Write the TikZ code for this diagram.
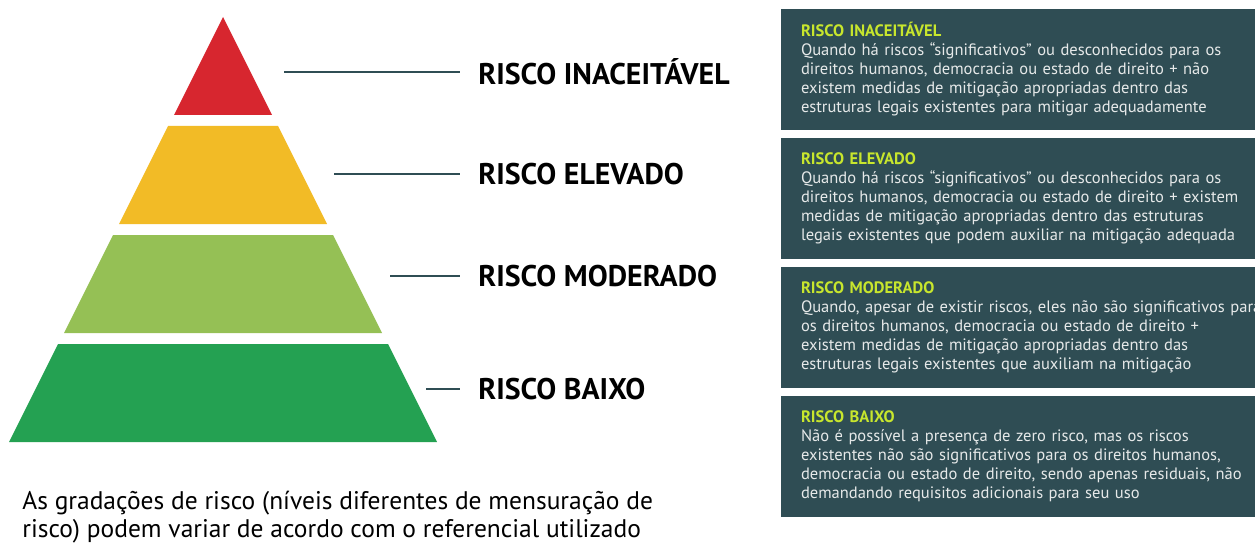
\documentclass[tikz,border=0pt]{standalone}
\usepackage{fontspec}
\setmainfont{PT Sans}
\usetikzlibrary{positioning,calc}
\definecolor{riskred}{HTML}{D7262F}
\definecolor{riskyellow}{HTML}{F2BB26}
\definecolor{risklight}{HTML}{95C055}
\definecolor{riskgreen}{HTML}{24A152}
\definecolor{boxteal}{HTML}{2F4D54}
\definecolor{titlelime}{HTML}{C8E62D}
\definecolor{boxtext}{HTML}{E6E9E9}
\tikzset{
        level/.style = {anchor=west, inner xsep=0.36cm, inner ysep=0pt,
            font=\fontsize{17}{18}\selectfont\bfseries},
        infobox/.style = {fill=boxteal, text=boxtext, align=left,
            text width=9.6cm, inner xsep=0.4cm, outer sep=0pt,
            minimum height=2.42cm,
            font=\fontsize{9.4}{10.8}\selectfont},
        leader/.style = {draw=boxteal, line width=1.3pt},
    }
\newcommand{\boxhead}[1]{\textcolor{titlelime}{\bfseries #1}}

\begin{document}
\begin{tikzpicture}[x=0.02cm, y=-0.02cm, node distance=0.16cm]
		\useasboundingbox (0,0) rectangle (1255,544);
		\fill[riskred]    (223,17) -- (272,115) -- (174,115) -- cycle;
		\fill[riskyellow] (168,126) -- (278,126) -- (327,224) -- (119,224) -- cycle;
		\fill[risklight]  (113,235) -- (333,235) -- (382,333) -- (64,333) -- cycle;
		\fill[riskgreen]  (58,344) -- (388,344) -- (437,442) -- (9,442) -- cycle;
		\coordinate (tipInac) at (284,72);
		\coordinate (tipElev) at (334,174);
		\coordinate (tipMod)  at (390,276);
		\coordinate (tipBaixo) at (426,389);
		\node[level] (lblInac)  at (460,72)  {RISCO INACEITÁVEL};
		\node[level] (lblElev)  at (460,174) {RISCO ELEVADO};
		\node[level] (lblMod)   at (460,276) {RISCO MODERADO};
		\node[level] (lblBaixo) at (460,389) {RISCO BAIXO};
		\path[leader]
		(tipInac) edge (lblInac)
		(tipElev) edge (lblElev)
		(tipMod) edge (lblMod)
		(tipBaixo) edge (lblBaixo);
		\node[infobox, anchor=north west] (boxInac) at (781,9)
		{\boxhead{RISCO INACEITÁVEL}\\
		Quando há riscos “significativos” ou desconhecidos para os\\
		direitos humanos, democracia ou estado de direito + não\\
		existem medidas de mitigação apropriadas dentro das\\
		estruturas legais existentes para mitigar adequadamente};
		\node[infobox] (boxElev) [below=of boxInac]
		{\boxhead{RISCO ELEVADO}\\
		Quando há riscos “significativos” ou desconhecidos para os\\
		direitos humanos, democracia ou estado de direito + existem\\
		medidas de mitigação apropriadas dentro das estruturas\\
		legais existentes que podem auxiliar na mitigação adequada};
		\node[infobox] (boxMod) [below=of boxElev]
		{\boxhead{RISCO MODERADO}\\
		Quando, apesar de existir riscos, eles não são significativos para\\
		os direitos humanos, democracia ou estado de direito +\\
		existem medidas de mitigação apropriadas dentro das\\
		estruturas legais existentes que auxiliam na mitigação};
		\node[infobox] (boxBaixo) [below=of boxMod]
		{\boxhead{RISCO BAIXO}\\
		Não é possível a presença de zero risco, mas os riscos\\
		existentes não são significativos para os direitos humanos,\\
		democracia ou estado de direito, sendo apenas residuais, não\\
		demandando requisitos adicionais para seu uso};
		\node[anchor=west, inner sep=0pt, align=left,
		font=\fontsize{14.5}{15.9}\selectfont] (caption) at (22,517)
		{As gradações de risco (níveis diferentes de mensuração de\\
		risco) podem variar de acordo com o referencial utilizado};
\end{tikzpicture}
\end{document}
